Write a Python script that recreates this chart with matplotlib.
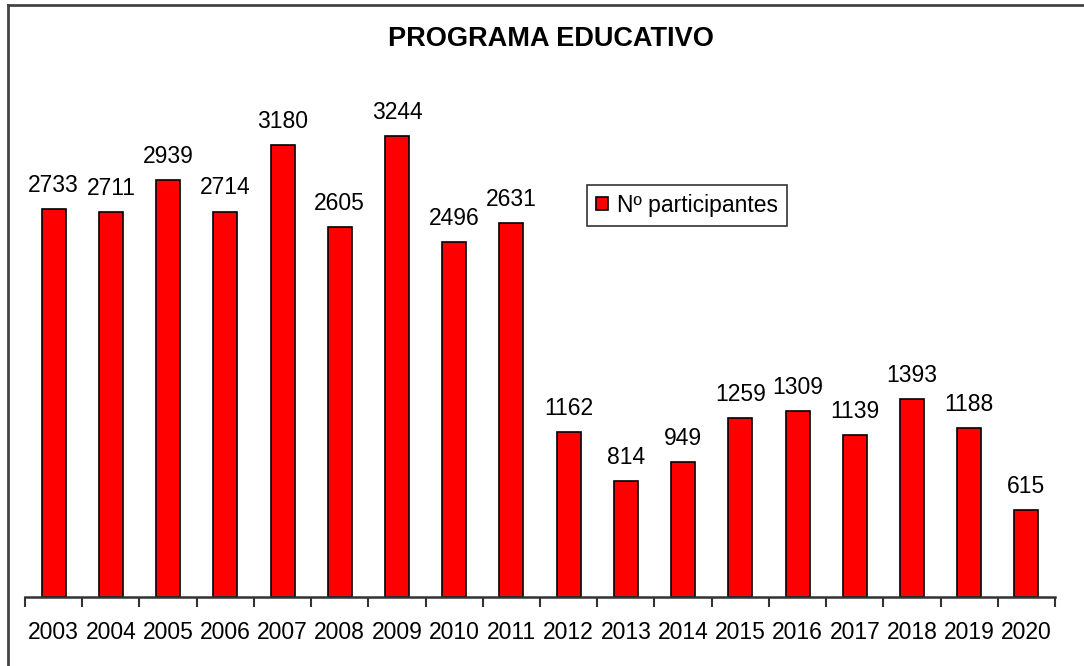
import matplotlib
matplotlib.use('Agg')
import matplotlib.pyplot as plt
from matplotlib.lines import Line2D
import numpy as np

years = ['2003', '2004', '2005', '2006', '2007', '2008', '2009', '2010', '2011',
         '2012', '2013', '2014', '2015', '2016', '2017', '2018', '2019', '2020']
participantes = [2733, 2711, 2939, 2714, 3180, 2605, 3244, 2496, 2631,
                 1162, 814, 949, 1259, 1309, 1139, 1393, 1188, 615]

plt.rcParams['font.family'] = ['Liberation Sans', 'DejaVu Sans']

fig = plt.figure(figsize=(10.84, 6.66), dpi=100)
ax = fig.add_axes([0.0231, 0.1036, 0.9502, 0.7464])

x = np.arange(len(years))
bars = ax.bar(x, participantes, width=0.42, color='#ff0000', edgecolor='black',
              linewidth=1.2, label='Nº participantes')

for xi, v in zip(x, participantes):
    ax.text(xi, v + 85, str(v), ha='center', va='bottom', fontsize=16.5, color='black')

ax.set_xlim(-0.5, len(years) - 0.5)
ax.set_ylim(0, 3500)

for s in ['left', 'top', 'right']:
    ax.spines[s].set_visible(False)
ax.spines['bottom'].set_color('#333333')
ax.spines['bottom'].set_linewidth(1.8)

ax.set_yticks([])
ax.set_xticks(x)
ax.set_xticklabels(years, fontsize=16.5)
ax.tick_params(axis='x', which='major', length=0, pad=17)
ax.set_xticks(np.arange(len(years) + 1) - 0.5, minor=True)
ax.tick_params(axis='x', which='minor', length=7, width=1.5, color='#333333')

fig.text(0.508, 0.941, 'PROGRAMA EDUCATIVO', ha='center', va='center',
         fontsize=19.5, fontweight='bold')

leg = ax.legend(loc='upper left', bbox_to_anchor=(0.5456, 0.829), fontsize=16.5,
                frameon=True, fancybox=False, handlelength=0.5, handleheight=0.5,
                handletextpad=0.4, borderpad=0.4, borderaxespad=0)
leg.get_frame().set_edgecolor('black')
leg.get_frame().set_linewidth(1.2)

# frame lines of the chart area (top and left)
fig.add_artist(Line2D([8 / 1084, 1.0], [1 - 4.5 / 666, 1 - 4.5 / 666],
                      transform=fig.transFigure, color='#444444', linewidth=2))
fig.add_artist(Line2D([8 / 1084, 8 / 1084], [0, 1 - 4.5 / 666],
                      transform=fig.transFigure, color='#444444', linewidth=2))

fig.savefig('out.png', dpi=100)
